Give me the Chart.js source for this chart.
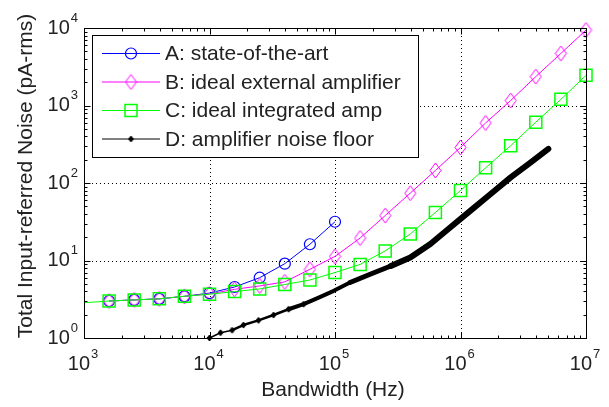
<!DOCTYPE html>
<html>
<head>
<meta charset="utf-8">
<script src="https://cdn.jsdelivr.net/npm/chart.js@4.4.1/dist/chart.umd.min.js"></script>
<style>
  html, body { margin: 0; padding: 0; background: #fff; }
  #wrap { width: 609px; height: 407px; }
</style>
</head>
<body>
<div id="wrap"><canvas id="noiseChart"></canvas></div>
<script>
// Series names
const seriesLabels = [
    'A: state-of-the-art',
    'B: ideal external amplifier',
    'C: ideal integrated amp',
    'D: amplifier noise floor'
];

// Axis ticks (powers of ten)
const xTickExps = [3, 4, 5, 6, 7];
const yTickExps = [0, 1, 2, 3, 4];

// Bandwidth (Hz) of the marked points
const freqA = [1585, 2512, 3981, 6310, 10000, 15849, 25119, 39811, 63096, 100000];
const freqB = [1585, 2512, 3981, 6310, 10000, 15849, 25119, 39811, 63096, 100000,
               158489, 251189, 398107, 630957, 1000000, 1584893, 2511886, 3981072, 6309573, 10000000];
const freqC = [1000, 1585, 2512, 3981, 6310, 10000, 15849, 25119, 39811, 63096, 100000,
               158489, 251189, 398107, 630957, 1000000, 1584893, 2511886, 3981072, 6309573, 10000000];
const freqD = [10000, 12246, 15136, 18621, 24547, 32359, 42658, 56234, 74131, 97724,
               131826, 192752, 278612, 398107, 575440, 831764, 1202264, 1737801, 2511886, 3630781, 5011872];

// Total input-referred noise (pA-rms)
const noiseA = [3.0, 3.1, 3.2, 3.45, 3.8, 4.55, 6.0, 9.1, 16.2, 31.6];
const noiseB = [3.0, 3.1, 3.2, 3.45, 3.7, 4.25, 4.7, 5.3, 7.7, 11.3,
                19.5, 38, 74, 145, 288, 595, 1160, 2360, 4700, 9400];
const noiseC = [2.85, 3.0, 3.1, 3.2, 3.45, 3.68, 3.97, 4.3, 4.9, 5.6, 7.0,
                8.9, 13.3, 22, 41.7, 80, 157, 303, 610, 1200, 2450];
const noiseD = [1.0, 1.17, 1.26, 1.47, 1.69, 1.98, 2.35, 2.73, 3.32, 4.06,
                5.2, 6.7, 8.5, 10.9, 16.3, 26.8, 44, 72, 118, 185, 276];

const colors = { a: '#0000FF', b: '#FF00FF', c: '#00FF00', d: '#000000' };
const FONT = "'Liberation Sans', Arial, sans-serif";

function toPoints(xs, ys) {
    return xs.map((x, i) => ({ x: x, y: ys[i] }));
}

// diamond marker images (MATLAB style, taller than wide)
function diamond(w, h, stroke, fill) {
    const c = document.createElement('canvas');
    c.width = w + 2;
    c.height = h + 2;
    const g = c.getContext('2d');
    g.beginPath();
    g.moveTo(c.width / 2, 1);
    g.lineTo(c.width - 1, c.height / 2);
    g.lineTo(c.width / 2, c.height - 1);
    g.lineTo(1, c.height / 2);
    g.closePath();
    if (fill) { g.fillStyle = fill; g.fill(); }
    g.strokeStyle = stroke;
    g.lineWidth = 1;
    g.stroke();
    return c;
}
const pinkDiamond = diamond(11, 15, colors.b, null);
const blackDiamond = diamond(5, 6, colors.d, colors.d);

// axes, grid, ticks, labels and legend drawn around the plot
const framePlugin = {
    id: 'framePlugin',
    beforeDatasetsDraw(chart) {
        const { ctx, chartArea: a, scales } = chart;
        ctx.save();
        ctx.strokeStyle = '#000';
        ctx.lineWidth = 1;
        ctx.setLineDash([1, 3]);
        xTickExps.slice(1, -1).forEach(e => {
            const px = Math.round(scales.x.getPixelForValue(Math.pow(10, e))) + 0.5;
            ctx.beginPath(); ctx.moveTo(px, a.top); ctx.lineTo(px, a.bottom); ctx.stroke();
        });
        yTickExps.slice(1, -1).forEach(e => {
            const py = Math.round(scales.y.getPixelForValue(Math.pow(10, e))) + 0.5;
            ctx.beginPath(); ctx.moveTo(a.left, py); ctx.lineTo(a.right, py); ctx.stroke();
        });
        ctx.restore();
    },
    afterDatasetsDraw(chart) {
        const { ctx, chartArea: a, scales } = chart;
        const L = Math.round(a.left) + 0.5, R = Math.round(a.right) + 0.5;
        const T = Math.round(a.top) + 0.5, B = Math.round(a.bottom) + 0.5;
        ctx.save();
        ctx.strokeStyle = '#000';
        ctx.lineWidth = 1;
        ctx.strokeRect(L, T, R - L, B - T);

        // inward ticks on all four sides
        ctx.beginPath();
        for (let e = xTickExps[0]; e < xTickExps[xTickExps.length - 1] + 1; e++) {
            for (let m = 1; m <= 9; m++) {
                const v = m * Math.pow(10, e);
                if (v > Math.pow(10, xTickExps[xTickExps.length - 1])) break;
                const px = Math.round(scales.x.getPixelForValue(v)) + 0.5;
                const len = m === 1 ? 6 : 3;
                ctx.moveTo(px, B); ctx.lineTo(px, B - len);
                ctx.moveTo(px, T); ctx.lineTo(px, T + len);
            }
        }
        for (let e = yTickExps[0]; e < yTickExps[yTickExps.length - 1] + 1; e++) {
            for (let m = 1; m <= 9; m++) {
                const v = m * Math.pow(10, e);
                if (v > Math.pow(10, yTickExps[yTickExps.length - 1])) break;
                const py = Math.round(scales.y.getPixelForValue(v)) + 0.5;
                const len = m === 1 ? 6 : 3;
                ctx.moveTo(L, py); ctx.lineTo(L + len, py);
                ctx.moveTo(R, py); ctx.lineTo(R - len, py);
            }
        }
        ctx.stroke();

        // tick labels 10^n
        ctx.fillStyle = '#222';
        ctx.textBaseline = 'middle';
        ctx.textAlign = 'left';
        const baseFont = '20px ' + FONT, expFont = '13px ' + FONT;
        function powLabel(exp, startX, y) {
            ctx.font = baseFont;
            const w = ctx.measureText('10').width;
            ctx.fillText('10', startX, y);
            ctx.font = expFont;
            ctx.fillText(String(exp), startX + w + 1, y - 10);
        }
        function powWidth(exp) {
            ctx.font = baseFont;
            const w = ctx.measureText('10').width;
            ctx.font = expFont;
            return w + 1 + ctx.measureText(String(exp)).width;
        }
        yTickExps.forEach(e => {
            const py = scales.y.getPixelForValue(Math.pow(10, e));
            powLabel(e, 78 - powWidth(e), py);
        });
        xTickExps.forEach(e => {
            const px = scales.x.getPixelForValue(Math.pow(10, e));
            powLabel(e, px - powWidth(e) / 2 - 1, B + 26);
        });

        // axis titles
        ctx.font = '21px ' + FONT;
        ctx.textAlign = 'center';
        ctx.fillText('Bandwidth (Hz)', (a.left + a.right) / 2 - 2, 390);
        ctx.save();
        ctx.translate(26, 176);
        ctx.rotate(-Math.PI / 2);
        ctx.fillText('Total Input-referred Noise (pA-rms)', 0, 0);
        ctx.restore();

        // legend
        const box = { x: 92.5, y: 35.5, w: 326, h: 122 };
        ctx.fillStyle = '#fff';
        ctx.fillRect(box.x, box.y, box.w, box.h);
        ctx.strokeStyle = '#000';
        ctx.strokeRect(box.x, box.y, box.w, box.h);
        const rows = [53, 81.5, 110, 138.5];
        const lineCols = [colors.a, colors.b, colors.c, colors.d];
        rows.forEach((ry, i) => {
            ctx.strokeStyle = lineCols[i];
            ctx.lineWidth = 1;
            ctx.beginPath();
            ctx.moveTo(102, ry + 0.5); ctx.lineTo(160, ry + 0.5);
            ctx.stroke();
            if (i === 0) {
                ctx.lineWidth = 1.2;
                ctx.beginPath(); ctx.arc(131, ry + 0.5, 5.5, 0, Math.PI * 2); ctx.stroke();
            } else if (i === 1) {
                ctx.drawImage(pinkDiamond, 131 - pinkDiamond.width / 2, ry + 0.5 - pinkDiamond.height / 2);
            } else if (i === 2) {
                ctx.lineWidth = 1.5;
                ctx.strokeRect(125, ry - 5.5, 12, 12);
            } else {
                ctx.drawImage(blackDiamond, 131 - blackDiamond.width / 2, ry + 0.5 - blackDiamond.height / 2);
            }
            ctx.fillStyle = '#222';
            ctx.font = '21px ' + FONT;
            ctx.textAlign = 'left';
            ctx.fillText(chart.data.datasets[i].label, 165, ry + 1.5);
        });
        ctx.restore();
    }
};

new Chart(document.getElementById('noiseChart'), {
    type: 'line',
    data: {
        datasets: [{
            label: seriesLabels[0],
            data: toPoints(freqA, noiseA),
            borderColor: colors.a,
            backgroundColor: 'transparent',
            borderWidth: 1,
            pointStyle: 'circle',
            pointRadius: 5.5,
            pointBorderWidth: 1.2,
            pointBorderColor: colors.a,
            order: 3,
            clip: false
        }, {
            label: seriesLabels[1],
            data: toPoints(freqB, noiseB),
            borderColor: colors.b,
            backgroundColor: 'transparent',
            borderWidth: 1,
            pointStyle: pinkDiamond,
            order: 2,
            clip: false
        }, {
            label: seriesLabels[2],
            data: toPoints(freqC, noiseC),
            borderColor: colors.c,
            backgroundColor: 'transparent',
            borderWidth: 1,
            pointStyle: 'rect',
            pointRadius: ctx => (ctx.raw && ctx.raw.x <= 1000 ? 0 : 8.5),
            pointBorderWidth: 1.5,
            pointBorderColor: colors.c,
            order: 1,
            clip: false
        }, {
            label: seriesLabels[3],
            data: toPoints(freqD, noiseD),
            borderColor: colors.d,
            backgroundColor: colors.d,
            borderWidth: 1.5,
            borderCapStyle: 'round',
            borderJoinStyle: 'round',
            pointStyle: blackDiamond,
            pointRadius: ctx => (ctx.raw && ctx.raw.x < 60000 ? 3 : 0),
            segment: {
                borderWidth: ctx => {
                    const x = ctx.p0.parsed.x;
                    if (x < 15000) return 1.5;
                    if (x < 40000) return 2.5;
                    if (x < 120000) return 4;
                    if (x < 250000) return 5;
                    return 6;
                }
            },
            order: 0,
            clip: false
        }]
    },
    options: {
        responsive: true,
        maintainAspectRatio: false,
        animation: false,
        layout: { padding: { left: 84, top: 28, right: 23, bottom: 69 } },
        plugins: {
            legend: { display: false },
            tooltip: { enabled: false }
        },
        scales: {
            x: { type: 'logarithmic', display: false, min: 1000, max: 10000000 },
            y: { type: 'logarithmic', display: false, min: 1, max: 10000 }
        }
    },
    plugins: [framePlugin]
});
</script>
</body>
</html>
